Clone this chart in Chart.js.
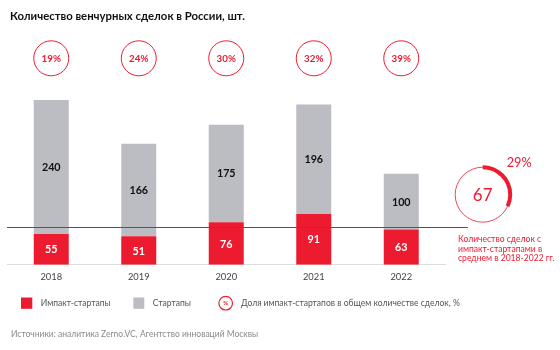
<!DOCTYPE html>
<html><head><meta charset="utf-8">
<script src="https://cdn.jsdelivr.net/npm/chart.js@4/dist/chart.umd.min.js"></script>
<style>html,body{margin:0;padding:0;background:#fff}#wrap{width:560px;height:350px;position:relative}</style>
</head><body><div id="wrap"><canvas id="c" width="560" height="350"></canvas></div>
<script>
const years = ['2018','2019','2020','2021','2022'];
const impactDeals = [55, 51, 76, 91, 63];
const startupDeals = [240, 166, 175, 196, 100];
const impactShare = [19, 24, 30, 32, 39];
const avgImpactDeals = 67;
const avgImpactShare = 29;
const titleText = 'Количество венчурных сделок в России, шт.';
const sourceText = 'Источники: аналитика Zerno.VC, Агентство инноваций Москвы';
const legendLabels = ['Импакт-стартапы', 'Стартапы', 'Доля импакт-стартапов в общем количестве сделок, %'];
const avgNote = ['Количество сделок с', 'импакт-стартапами в', 'среднем в 2018-2022 гг.'];

const RED = '#ED1B2F', GRAY = '#BCBCC3';
const FONT = 'Lato, "Open Sans", sans-serif';

const mctx = document.createElement('canvas').getContext('2d');
function fitSize(text, weight, width) {
  mctx.font = weight + ' 100px ' + FONT;
  return 100 * width / mctx.measureText(text).width;
}
function setFit(ctx, text, weight, width) {
  ctx.font = weight + ' ' + fitSize(text, weight, width).toFixed(2) + 'px ' + FONT;
}
const yearSize = fitSize('2018', 'normal', 21.7);

const decor = {
  id: 'decor',
  afterDatasetsDraw(chart) {
    const {ctx, scales: {x, y}} = chart;
    ctx.save();
    const valSize = fitSize('240', 'bold', 18.7);
    chart.data.datasets.forEach((ds, di) => {
      const meta = chart.getDatasetMeta(di);
      meta.data.forEach((bar, i) => {
        const p = bar.getProps(['x', 'y', 'base'], true);
        ctx.font = 'bold ' + valSize.toFixed(2) + 'px ' + FONT;
        ctx.fillStyle = di === 0 ? '#fff' : '#111';
        ctx.textAlign = 'center'; ctx.textBaseline = 'middle';
        ctx.fillText(String(ds.data[i]), p.x, (p.y + p.base) / 2 + 0.5);
      });
    });
    // average line
    const ya = Math.round(y.getPixelForValue(avgImpactDeals)) + 0.5;
    ctx.strokeStyle = '#555'; ctx.lineWidth = 1;
    ctx.beginPath(); ctx.moveTo(7, ya); ctx.lineTo(468, ya); ctx.stroke();
    // share circles
    const pctSize = fitSize('19%', 'bold', 19.3);
    years.forEach((yr, i) => {
      const cx = x.getPixelForValue(i);
      ctx.beginPath(); ctx.arc(cx, 58.3, 17.5, 0, Math.PI * 2);
      ctx.strokeStyle = RED; ctx.lineWidth = 1; ctx.stroke();
      ctx.fillStyle = RED; ctx.font = 'bold ' + pctSize.toFixed(2) + 'px ' + FONT;
      ctx.textAlign = 'center'; ctx.textBaseline = 'middle';
      ctx.fillText(impactShare[i] + '%', cx, 58.8);
    });
    // big circle
    const bx = 482.7, by = 194.7, br = 27.5;
    ctx.beginPath(); ctx.arc(bx, by, br, 0, Math.PI * 2);
    ctx.strokeStyle = RED; ctx.lineWidth = 0.8; ctx.stroke();
    ctx.beginPath();
    ctx.arc(bx, by, br, -Math.PI / 2, -Math.PI / 2 + Math.PI * 2 * avgImpactShare / 100 * 1.1);
    ctx.lineWidth = 4; ctx.stroke();
    ctx.fillStyle = RED;
    ctx.font = '17px ' + FONT;
    ctx.textAlign = 'center'; ctx.textBaseline = 'middle';
    ctx.fillText(String(avgImpactDeals), bx, by + 1);
    ctx.textAlign = 'left';
    setFit(ctx, '29%', 'normal', 25);
    ctx.fillText(avgImpactShare + '%', 506.7, 163);
    setFit(ctx, avgNote[2], 'normal', 96.5);
    avgNote.forEach((t, i) => ctx.fillText(t, 458, 239.5 + i * 9.6));
    // title
    ctx.fillStyle = '#111';
    setFit(ctx, titleText, 'bold', 235);
    ctx.textAlign = 'left'; ctx.textBaseline = 'middle';
    ctx.fillText(titleText, 10, 16.5);
    // legend
    ctx.fillStyle = RED; ctx.fillRect(21, 297.5, 11.3, 11.3);
    ctx.fillStyle = GRAY; ctx.fillRect(133.3, 297.5, 11, 11.3);
    ctx.beginPath(); ctx.arc(225.7, 303.2, 6.8, 0, Math.PI * 2);
    ctx.strokeStyle = RED; ctx.lineWidth = 1.2; ctx.stroke();
    ctx.fillStyle = RED; ctx.font = 'bold 6px ' + FONT; ctx.textAlign = 'center';
    ctx.fillText('%', 225.7, 303.5);
    ctx.fillStyle = '#555'; ctx.textAlign = 'left';
    setFit(ctx, legendLabels[2], 'normal', 219);
    ctx.fillText(legendLabels[0], 40.7, 303.5);
    ctx.fillText(legendLabels[1], 152.7, 303.5);
    ctx.fillText(legendLabels[2], 241, 303.5);
    // source
    ctx.fillStyle = '#8a8a8a';
    setFit(ctx, sourceText, 'normal', 247);
    ctx.fillText(sourceText, 11, 334.3);
    ctx.restore();
  }
};

new Chart(document.getElementById('c'), {
  type: 'bar',
  data: {
    labels: years,
    datasets: [
      {label: legendLabels[0], data: impactDeals, backgroundColor: RED, borderWidth: 0},
      {label: legendLabels[1], data: startupDeals, backgroundColor: GRAY, borderWidth: 0}
    ]
  },
  options: {
    responsive: false, animation: false,
    layout: {padding: {left: 7.5, right: 115, top: 97.3, bottom: 60}},
    datasets: {bar: {categoryPercentage: 1, barPercentage: 0.4}},
    plugins: {legend: {display: false}, tooltip: {enabled: false}, title: {display: false}},
    scales: {
      x: {stacked: true, grid: {display: false, drawTicks: false},
          border: {display: true, color: '#ddd', width: 1},
          ticks: {padding: 7, color: '#444', font: {family: FONT, size: yearSize}}},
      y: {stacked: true, display: false, min: 0, max: 300}
    }
  },
  plugins: [decor]
});
</script></body></html>
